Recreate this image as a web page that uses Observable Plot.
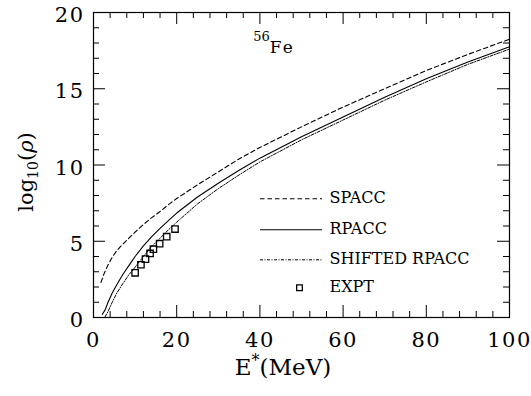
<!DOCTYPE html>
<html><head><meta charset="utf-8">
<script src="https://cdn.jsdelivr.net/npm/d3@7"></script>
<script src="https://cdn.jsdelivr.net/npm/@observablehq/plot@0.6"></script>
<style>
body{margin:0;background:#fff;}
#chart svg{display:block;}
#chart svg text{font-family:"DejaVu Serif", serif;}
</style></head><body><div id="chart"></div>
<script>
// ---- data ----
const spaccE = [1.8, 2.5, 3.5, 4.5, 5.5, 7, 8.5, 10, 12, 14, 16, 18, 20, 25, 30, 35, 40, 50, 60, 70, 80, 90, 100];
const spaccV = [2.3, 2.85, 3.45, 3.95, 4.35, 4.8, 5.2, 5.6, 6.1, 6.55, 6.95, 7.4, 7.8, 8.7, 9.55, 10.4, 11.15, 12.5, 13.8, 15.0, 16.2, 17.25, 18.25];
const rpaccE = [2.1, 2.8, 3.5, 4.5, 5.5, 7, 8.5, 10, 12, 14, 16, 18, 20, 25, 30, 35, 40, 50, 60, 70, 80, 90, 100];
const rpaccV = [0.2, 0.5, 1.0, 1.6, 2.1, 2.8, 3.4, 4.0, 4.7, 5.3, 5.85, 6.35, 6.85, 7.9, 8.8, 9.65, 10.45, 11.85, 13.15, 14.45, 15.65, 16.75, 17.75];
const shiftE = [2.8, 3.5, 4.5, 5.5, 7, 8.5, 10, 12, 14, 16, 18, 20, 25, 30, 35, 40, 50, 60, 70, 80, 90, 100];
const shiftV = [0.05, 0.4, 1.0, 1.55, 2.2, 2.8, 3.3, 4.0, 4.65, 5.2, 5.75, 6.25, 7.45, 8.45, 9.35, 10.2, 11.65, 12.95, 14.25, 15.45, 16.6, 17.6];
const exptE = [10, 11.4, 12.5, 13.6, 14.4, 15.9, 17.6, 19.6];
const exptV = [2.93, 3.46, 3.83, 4.2, 4.48, 4.84, 5.3, 5.8];
const seriesNames = ["SPACC", "RPACC", "SHIFTED RPACC", "EXPT"];
const xTickLabels = [0, 20, 40, 60, 80, 100];
const yTickLabels = [0, 5, 10, 15, 20];
const xMinorTicks = d3.range(0, 101, 4);
const yMinorTicks = d3.range(0, 21, 1);

// ---- layout ----
const W = 531, H = 396, mL = 93, mR = 22, mT = 12, mB = 79;
const fw = W - mL - mR, fh = H - mT - mB;
const font = "'DejaVu Serif', serif";
const pxToX = px => (px - mL) / fw * 100;
const pxToY = py => (mT + fh - py) / fh * 20;

const pts = (E, V) => E.map((e, i) => ({e, v: V[i]}));
const spacc = pts(spaccE, spaccV), rpacc = pts(rpaccE, rpaccV), shifted = pts(shiftE, shiftV), expt = pts(exptE, exptV);

// legend geometry
const legRowsPx = [198.3, 229.3, 259.3, 287.3];
const legX1 = pxToX(260), legX2 = pxToX(322), legSq = pxToX(299), legText = pxToX(329);
const legend = seriesNames.map((name, i) => ({name, y: pxToY(legRowsPx[i])}));

const dashS = "4.5,3", dashSh = "3,1.5,1,1.5";
const MAJ = 12, MIN = 6;

const plot = Plot.plot({
  width: W, height: H,
  marginLeft: mL, marginRight: mR, marginTop: mT, marginBottom: mB,
  x: {domain: [0, 100]},
  y: {domain: [0, 20]},
  style: {fontFamily: font, background: "#fff", color: "#000"},
  marks: [
    Plot.ruleX(xMinorTicks.filter(d => d % 20), {x: d => d, insetTop: fh - MIN, stroke: "#000"}),
    Plot.ruleX(xMinorTicks.filter(d => d % 20), {x: d => d, insetBottom: fh - MIN, stroke: "#000"}),
    Plot.ruleX(xTickLabels, {x: d => d, insetTop: fh - MAJ, stroke: "#000"}),
    Plot.ruleX(xTickLabels, {x: d => d, insetBottom: fh - MAJ, stroke: "#000"}),
    Plot.ruleY(yMinorTicks.filter(d => d % 5), {y: d => d, insetRight: fw - MIN, stroke: "#000"}),
    Plot.ruleY(yMinorTicks.filter(d => d % 5), {y: d => d, insetLeft: fw - MIN, stroke: "#000"}),
    Plot.ruleY(yTickLabels, {y: d => d, insetRight: fw - MAJ, stroke: "#000"}),
    Plot.ruleY(yTickLabels, {y: d => d, insetLeft: fw - MAJ, stroke: "#000"}),
    Plot.frame({stroke: "#000", strokeWidth: 1.2}),
    Plot.axisX({ticks: xTickLabels, tickSize: 0, tickPadding: 15, fontSize: 21, label: null}),
    Plot.axisY({ticks: yTickLabels, tickSize: 0, tickPadding: 9, fontSize: 21, dy: 3, label: null}),
    Plot.line(spacc, {x: "e", y: "v", stroke: "#000", strokeWidth: 1.1, strokeDasharray: dashS}),
    Plot.line(rpacc, {x: "e", y: "v", stroke: "#000", strokeWidth: 1.1}),
    Plot.line(shifted, {x: "e", y: "v", stroke: "#000", strokeWidth: 1, strokeDasharray: dashSh}),
    Plot.dot(expt, {x: "e", y: "v", symbol: "square", r: 3.6, stroke: "#000", strokeWidth: 1.3, fill: "none"}),
    Plot.ruleY([legend[0]], {y: "y", x1: legX1, x2: legX2, stroke: "#000", strokeWidth: 1.1, strokeDasharray: dashS}),
    Plot.ruleY([legend[1]], {y: "y", x1: legX1, x2: legX2, stroke: "#000", strokeWidth: 1.1}),
    Plot.ruleY([legend[2]], {y: "y", x1: legX1, x2: legX2, stroke: "#000", strokeWidth: 1, strokeDasharray: dashSh}),
    Plot.dot([legend[3]], {x: legSq, y: "y", symbol: "square", r: 3.2, stroke: "#000", strokeWidth: 1.3, fill: "none"}),
    Plot.text(legend, {x: legText, y: "y", text: "name", textAnchor: "start", fontSize: 16, dy: -1, fill: "#000"})
  ]
});

const svg = d3.select(plot);
svg.selectAll('g[aria-label="x-axis tick label"] text, g[aria-label="y-axis tick label"] text').style("letter-spacing", "1.5px");

const yl = svg.append("text")
  .attr("transform", "translate(33,172) rotate(-90)")
  .attr("text-anchor", "middle").attr("font-size", 21).attr("fill", "#000");
yl.append("tspan").text("log");
yl.append("tspan").attr("font-size", 14).attr("dy", 5).text("10");
yl.append("tspan").attr("dy", -5).text("(");
yl.append("tspan").attr("font-style", "italic").text("ρ");
yl.append("tspan").text(")");

const xl = svg.append("text")
  .attr("x", 283).attr("y", 375)
  .attr("font-size", 23).attr("fill", "#000");
xl.append("tspan").text("E");
xl.append("tspan").attr("font-size", 16).attr("dy", -9).text("*");
xl.append("tspan").attr("dy", 9).text("(MeV)");

const nl = svg.append("text")
  .attr("x", 274).attr("y", 53)
  .attr("font-size", 17).attr("fill", "#000");
nl.append("tspan").attr("font-size", 13).attr("dy", -12).text("56");
nl.append("tspan").attr("dy", 12).attr("letter-spacing", "2px").text("Fe");

document.getElementById("chart").appendChild(plot);
</script>
</body></html>
